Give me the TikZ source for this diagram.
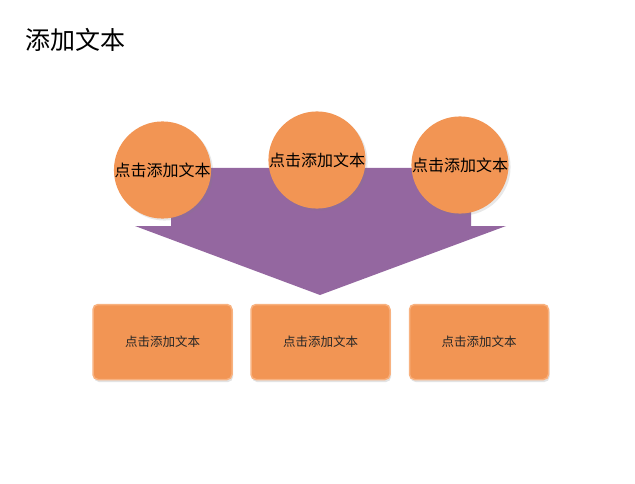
\documentclass[tikz,border=0pt]{standalone}
\usepackage{fontspec}
\setmainfont{Noto Sans CJK SC}
\usetikzlibrary{shadows}
\definecolor{orangefill}{RGB}{242,149,84}
\definecolor{orangeedge}{RGB}{248,178,128}
\definecolor{arrowpurple}{RGB}{148,103,160}
\tikzset{
  circ/.style={circle, fill=orangefill, minimum size=95pt, inner sep=0pt,
    font=\fontsize{16}{18}\selectfont, text=black,
    drop shadow={shadow xshift=2pt, shadow yshift=-2pt, opacity=0.18}},
  box/.style={rectangle, rounded corners=5pt, fill=orangefill, draw=orangeedge, line width=1.5pt,
    minimum width=139pt, minimum height=75pt, inner sep=0pt,
    font=\fontsize{12.5}{15}\selectfont, text=black!85,
    drop shadow={shadow xshift=1pt, shadow yshift=-2.5pt, opacity=0.22}},
  titletext/.style={anchor=west, font=\fontsize{25}{28}\selectfont, text=black, inner sep=0pt}
}
\begin{document}
\begin{tikzpicture}[x=1pt, y=-1pt]
\useasboundingbox[fill=white] (0,0) rectangle (635,484);
\node[titletext] (title) at (25,40) {添加文本};
% big arrow
\fill[arrowpurple] (171,168) -- (471,168) -- (471,226) -- (506,226) -- (320,295) -- (135,226) -- (171,226) -- cycle;
% circles
\node[circ] (c1) at (162.5,170) {\raisebox{-3pt}{点击添加文本}};
\node[circ] (c2) at (317,160) {点击添加文本};
\node[circ] (c3) at (460,165) {\raisebox{-5pt}{点击添加文本}};
% boxes
\node[box] (b1) at (162.5,342) {点击添加文本};
\node[box] (b2) at (320.5,342) {点击添加文本};
\node[box] (b3) at (479,342) {点击添加文本};
\end{tikzpicture}
\end{document}
